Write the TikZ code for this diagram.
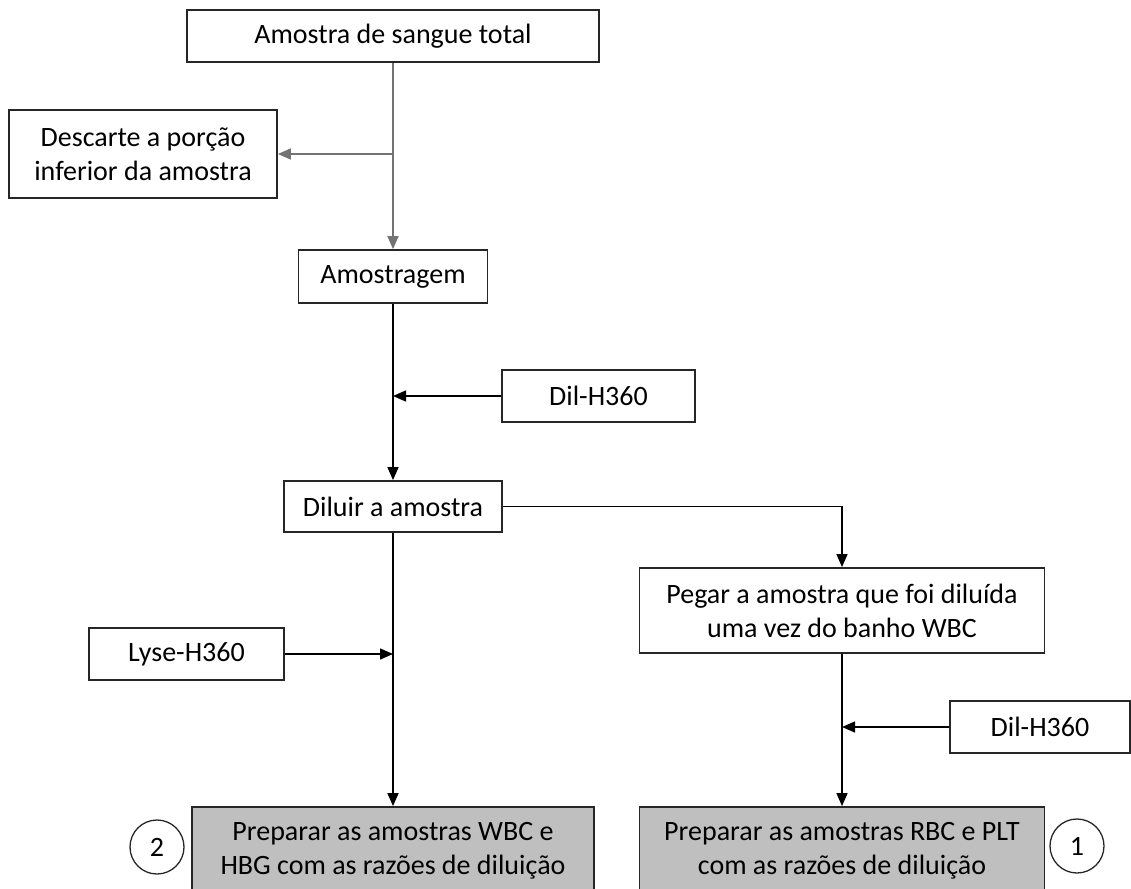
\documentclass[tikz,border=0pt]{standalone}
\usepackage{fontspec}
\setmainfont{Carlito}
\usetikzlibrary{arrows.meta}

\tikzset{
  block/.style={draw=black!85, line width=1.8pt, fill=white, align=center,
    inner sep=0pt, font=\fontsize{28}{34}\selectfont},
  prepbox/.style={block, fill=black!25},
  numcirc/.style={draw=black!85, circle, line width=1.3pt, minimum size=54pt,
    inner sep=0pt, font=\fontsize{28}{34}\selectfont},
  flow/.style={line width=1.5pt, -{Triangle[length=13pt,width=11pt]}},
}

\begin{document}
\begin{tikzpicture}[x=1pt,y=-1pt]
    \path[use as bounding box, clip] (0,0) rectangle (1131,888);

    % Draw the blocks
    \node[block, minimum width=412pt, minimum height=52pt] (amostra) at (393,36) {Amostra de sangue total};
    \node[block, minimum width=268pt, minimum height=88pt] (descarte) at (143,154) {Descarte a porção\\inferior da amostra};
    \node[block, minimum width=189pt, minimum height=53pt] (amostragem) at (393,276.5) {Amostragem};
    \node[block, minimum width=193pt, minimum height=52pt] (dilA) at (598.5,396) {Dil-H360};
    \node[block, minimum width=218pt, minimum height=51pt] (diluir) at (393,506.5) {Diluir a amostra};
    \node[block, minimum width=405pt, minimum height=85pt] (pegar) at (842,610.5) {Pegar a amostra que foi diluída\\uma vez do banho WBC};
    \node[block, minimum width=195pt, minimum height=52pt] (lyse) at (186.5,654) {Lyse-H360};
    \node[block, minimum width=180pt, minimum height=52pt] (dilB) at (1040,727) {Dil-H360};

    % Prepared samples
    \node[prepbox, minimum width=402pt, minimum height=88pt] (wbc) at (393,851) {Preparar as amostras WBC e\\HBG com as razões de diluição};
    \node[prepbox, minimum width=405pt, minimum height=88pt] (rbc) at (842,851) {Preparar as amostras RBC e PLT\\com as razões de diluição};
    \node[numcirc] (two) at (157,847) {2};
    \node[numcirc] (one) at (1077,846) {1};

    % Draw the flow
    \coordinate (jdesc) at (amostra.south |- descarte.east);
    \draw[flow, draw=black!55] (amostra.south) -- (amostragem.north);
    \draw[flow, draw=black!55] (jdesc) -- (descarte.east);
    \draw[flow] (amostragem.south) -- (diluir.north);
    \draw[flow] (dilA.west) -- (amostragem.south |- dilA.west);
    \draw[flow] (diluir.east) -| (pegar.north);
    \draw[flow] (diluir.south) -- (wbc.north);
    \draw[flow] (lyse.east) -- (diluir.south |- lyse.east);
    \draw[flow] (pegar.south) -- (rbc.north);
    \draw[flow] (dilB.west) -- (pegar.south |- dilB.west);
\end{tikzpicture}
\end{document}
